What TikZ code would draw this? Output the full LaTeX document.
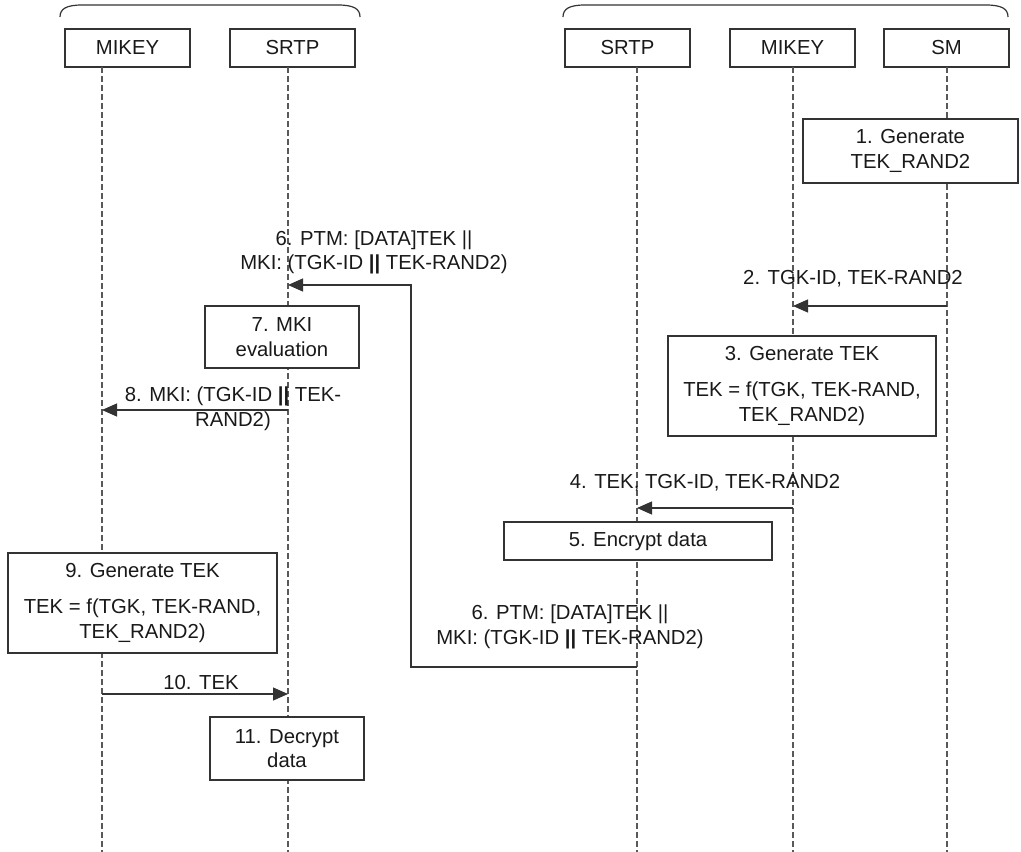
\documentclass[tikz,border=0pt]{standalone}
\usepackage{fontspec}
\setmainfont{Liberation Sans}
\usetikzlibrary{arrows.meta}
\begin{document}
\begin{tikzpicture}[x=1pt,y=-1pt,
  lbl/.style={font=\fontsize{20.3}{24.5}\selectfont, align=center, inner sep=0pt, text=black!90},
  head/.style={lbl, draw=black!80, line width=1.2pt, minimum width=125pt, minimum height=38pt},
  act/.style={lbl, draw=black!80, fill=white, line width=1.2pt},
  life/.style={draw=black!65, line width=1.2pt, dash pattern=on 6pt off 3pt},
  msg/.style={draw=black!80, line width=1.2pt, -{Triangle[length=15pt,width=13pt]}},
  brace/.style={draw=black!80, line width=1.2pt}]
\useasboundingbox (0,0) rectangle (1021,852);

% group braces
\draw[brace] (60,17) .. controls (60,9) and (66,5) .. (82,5) -- (338,5)
  .. controls (354,5) and (360,9) .. (360,17);
\draw[brace] (563,17) .. controls (563,9) and (569,5) .. (585,5) -- (986,5)
  .. controls (1002,5) and (1008,9) .. (1008,17);

% participants
\node[head] (mkA) at (127.5,48) {MIKEY};
\node[head] (srA) at (292.5,48) {SRTP};
\node[head] (srB) at (627.5,48) {SRTP};
\node[head] (mkB) at (792.5,48) {MIKEY};
\node[head] (sm)  at (946.5,48) {SM};

% lifelines
\coordinate (mkAt) at (102,67);  \coordinate (mkAb) at (102,852);
\coordinate (srAt) at (288,67);  \coordinate (srAb) at (288,852);
\coordinate (srBt) at (637,67);  \coordinate (srBb) at (637,852);
\coordinate (mkBt) at (793,67);  \coordinate (mkBb) at (793,852);
\coordinate (smt)  at (947,67);  \coordinate (smb)  at (947,852);
\foreach \l in {mkA,srA,srB,mkB,sm} \draw[life] (\l t) -- (\l b);

% actions
\node[act, minimum width=215pt, minimum height=64pt] (a1) at (910.5,151)
  {1. Generate\\TEK\_RAND2};
\node[act, minimum width=268pt, minimum height=100pt] (a3) at (802,386)
  {3. Generate TEK\\[12pt]TEK = f(TGK, TEK-RAND,\\TEK\_RAND2)};
\node[act, minimum width=268pt, minimum height=38pt] (a5) at (638,541)
  {5. Encrypt data};
\node[act, minimum width=154pt, minimum height=62pt] (a7) at (282,337)
  {7. MKI\\evaluation};
\node[act, minimum width=269pt, minimum height=100pt] (a9) at (142.5,603)
  {9. Generate TEK\\[12pt]TEK = f(TGK, TEK-RAND,\\TEK\_RAND2)};
\node[act, minimum width=154pt, minimum height=63pt] (a11) at (287,748.5)
  {11. Decrypt\\data};

% messages
\coordinate (m2s) at (947,306); \coordinate (m2e) at (793,306);
\draw[msg] (m2s) -- (m2e);
\node[lbl] (t2) at (853,279) {2. TGK-ID, TEK-RAND2};

\coordinate (m4s) at (793,508); \coordinate (m4e) at (637,508);
\draw[msg] (m4s) -- (m4e);
\node[lbl] (t4) at (705,483) {4. TEK, TGK-ID, TEK-RAND2};

\coordinate (m6a) at (637,667); \coordinate (m6b) at (411,667);
\coordinate (m6c) at (411,285); \coordinate (m6d) at (288,285);
\draw[msg] (m6a) -- (m6b) -- (m6c) -- (m6d);
\node[lbl] (t6b) at (570,627) {6. PTM: [DATA]TEK ||\\MKI: (TGK-ID \textbf{||} TEK-RAND2)};
\node[lbl] (t6a) at (374,252.5) {6. PTM: [DATA]TEK ||\\MKI: (TGK-ID \textbf{||} TEK-RAND2)};

\coordinate (m8s) at (288,410); \coordinate (m8e) at (102,410);
\draw[msg] (m8s) -- (m8e);
\node[lbl] (t8) at (233,408.5) {8. MKI: (TGK-ID \textbf{||} TEK-\\RAND2)};

\coordinate (m10s) at (102,694); \coordinate (m10e) at (288,694);
\draw[msg] (m10s) -- (m10e);
\node[lbl] (t10) at (201,683) {10. TEK};
\end{tikzpicture}
\end{document}
